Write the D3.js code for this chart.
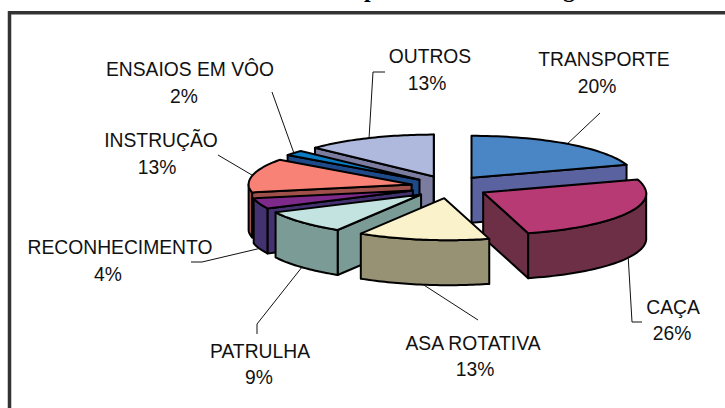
<!DOCTYPE html>
<html>
<head>
<meta charset="utf-8">
<script src="https://cdn.jsdelivr.net/npm/d3@7"></script>
<style>
html, body { margin: 0; padding: 0; background: #fff; overflow: hidden; }
text { font-family: "Liberation Sans", Arial, sans-serif; font-size: 19.3px; fill: #111; }
</style>
</head>
<body>
<script>
// chart data, clockwise from 12 o'clock
const categories = ["TRANSPORTE", "CAÇA", "ASA ROTATIVA", "PATRULHA", "RECONHECIMENTO", "INSTRUÇÃO", "ENSAIOS EM VÔO", "OUTROS"];
const shares = [20, 26, 13, 9, 4, 13, 2, 13];
const pctLabels = ["20%", "26%", "13%", "9%", "4%", "13%", "2%", "13%"];

const topColors = ["#4a86c6", "#b83a75", "#faf2cb", "#c2e3df", "#7d2a8a", "#f88276", "#0b7cc4", "#aeb9dd"];
const sideColors = ["#5a62a0", "#6d2f45", "#989274", "#7b9b96", "#433170", "#a0504a", "#1f4a8a", "#7a7da0"];

// painter's order, back to front
const drawOrder = [7, 6, 5, 4, 3, 0, 1, 2];

// label placement: name centre, percent centre
const nameAt = [[604, 59], [673, 307], [473, 343], [260, 351], [120, 247], [161, 140], [190, 69], [430, 56]];
const pctAt = [[597, 86], [672, 333], [475, 369], [259, 377], [108, 274], [157, 167], [184, 96], [427, 83]];
// leader line bends, going out from the slice
const bends = [
  [[600, 113]],
  [[632, 322], [642, 322]],
  [[478, 320]],
  [[257, 324], [257, 334]],
  [[202, 262], [191, 262]],
  [[218, 155]],
  [[272, 92]],
  [[373, 72], [385, 72]]
];

const w = 725, h = 408;
const depth = 45;
const burstX = 0.235, burstY = 0.27;
const lean = 0.11; // front of the pie leans right
const rad = Math.PI / 180;

const svg = d3.select("body").append("svg").attr("width", w).attr("height", h).style("display", "block");

// unit circle -> tilted page position
const x = d3.scaleLinear().domain([-1, 1]).range([449 - 163, 449 + 163]);
const y = d3.scaleLinear().domain([-1, 1]).range([187 + 42, 187 - 42]);

const pie = d3.pie().sort(null);
const slices = pie(shares);
const line = d3.line();

function apex(d) {
  const m = (d.startAngle + d.endAngle) / 2;
  return [Math.sin(m) * burstX, Math.cos(m) * burstY];
}
function page(px, py, drop) {
  const py0 = y(py);
  return [x(px) + Math.max(0, py0 - y(0)) * lean, py0 + (drop || 0)];
}
function onRim(d, a, drop) {
  const o = apex(d);
  return page(o[0] + Math.sin(a), o[1] + Math.cos(a), drop);
}
function rimPoints(d, a0, a1, drop) {
  return d3.range(0, 41).map(i => onRim(d, a0 + (a1 - a0) * i / 40, drop));
}

// frame and the clipped title above it
svg.append("path")
  .attr("d", line([[9.5, h], [9.5, 12.8], [w, 12.8]]))
  .attr("fill", "none").attr("stroke", "#333").attr("stroke-width", 3.5);

svg.selectAll("text.title").data(["p", "g"]).enter().append("text")
  .attr("class", "title")
  .attr("x", (d, i) => i ? 563 : 364)
  .attr("y", -3)
  .style("font-family", "'Liberation Serif', serif")
  .style("font-weight", "bold")
  .style("font-size", "24px")
  .style("fill", "#000")
  .text(d => d);

const pieces = svg.selectAll("g.slice").data(drawOrder).enter().append("g").attr("class", "slice");

pieces.each(function (idx) {
  const d = slices[idx], g = d3.select(this);
  const o = apex(d);
  const c = page(o[0], o[1]);
  const edge = (poly, fill) => g.append("path")
    .attr("d", line(poly) + "Z")
    .attr("fill", fill).attr("stroke", "#000").attr("stroke-width", 2).attr("stroke-linejoin", "round");

  // radial walls that face the viewer
  [[d.startAngle, Math.sin(d.startAngle) < 0], [d.endAngle, Math.sin(d.endAngle) > 0]].forEach(([a, show]) => {
    if (!show) return;
    const p = onRim(d, a);
    edge([c, p, [p[0], p[1] + depth], [c[0], c[1] + depth]], sideColors[idx]);
  });

  // outer rim, front half only
  const a0 = Math.max(d.startAngle, 90 * rad), a1 = Math.min(d.endAngle, 270 * rad);
  if (a1 > a0) {
    edge(rimPoints(d, a0, a1).concat(rimPoints(d, a1, a0, depth)), sideColors[idx]);
  }

  // top face
  edge([c].concat(rimPoints(d, d.startAngle, d.endAngle)), topColors[idx]);
});

// leaders start on the rim at the slice's mid angle
svg.selectAll("path.leader").data(slices).enter().append("path")
  .attr("class", "leader")
  .attr("fill", "none").attr("stroke", "#111").attr("stroke-width", 1)
  .attr("d", (d, i) => {
    const m = (d.startAngle + d.endAngle) / 2;
    const front = m > 90 * rad && m < 270 * rad;
    return line([onRim(d, m, front ? depth : 0)].concat(bends[i]));
  });

svg.selectAll("text.name").data(categories).enter().append("text")
  .attr("class", "name")
  .attr("text-anchor", "middle")
  .attr("x", (d, i) => nameAt[i][0])
  .attr("y", (d, i) => nameAt[i][1] + 7)
  .text(d => d);

svg.selectAll("text.pct").data(pctLabels).enter().append("text")
  .attr("class", "pct")
  .attr("text-anchor", "middle")
  .attr("x", (d, i) => pctAt[i][0])
  .attr("y", (d, i) => pctAt[i][1] + 7)
  .text(d => d);
</script>
</body>
</html>
